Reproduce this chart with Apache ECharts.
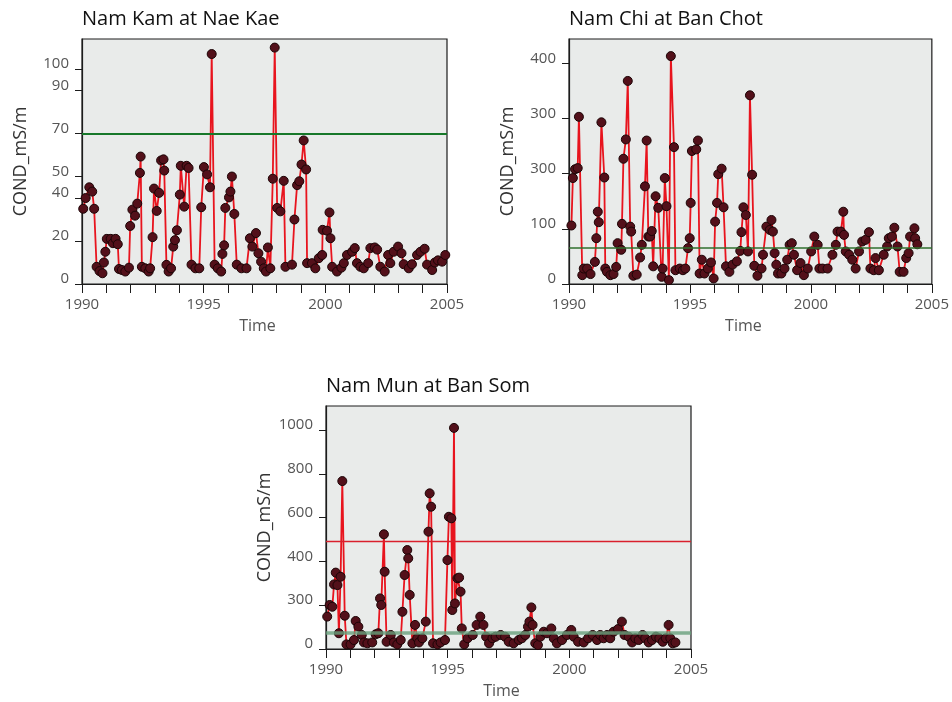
<!DOCTYPE html>
<html>
<head>
<meta charset="utf-8">
<script src="https://cdn.jsdelivr.net/npm/echarts@6/dist/echarts.min.js"></script>
<style>
  html, body { margin: 0; padding: 0; background: #ffffff; }
  #chart { width: 952px; height: 702px; }
</style>
</head>
<body>
<div id="chart"></div>
<script>
// Conductivity (mS/m) time series for three stations, sampled roughly monthly.

const namKamT = [1990.05,1990.15,1990.30,1990.42,1990.50,1990.60,1990.72,1990.84,1990.90,1990.96,
  1991.02,1991.18,1991.27,1991.38,1991.47,1991.52,1991.64,1991.78,1991.93,1991.98,
  1992.07,1992.18,1992.27,1992.38,1992.41,1992.46,1992.60,1992.74,1992.80,1992.90,1992.96,
  1993.07,1993.17,1993.25,1993.35,1993.38,1993.47,1993.56,1993.66,1993.75,1993.82,1993.90,
  1994.02,1994.06,1994.20,1994.30,1994.38,1994.50,1994.66,1994.82,1994.90,
  1995.01,1995.14,1995.26,1995.33,1995.45,1995.58,1995.72,1995.77,1995.84,1995.89,
  1996.04,1996.10,1996.16,1996.26,1996.36,1996.55,1996.76,1996.90,
  1997.00,1997.15,1997.25,1997.36,1997.47,1997.56,1997.64,1997.74,1997.84,1997.92,
  1998.02,1998.15,1998.29,1998.36,1998.63,1998.73,1998.84,1998.93,
  1999.02,1999.11,1999.21,1999.25,1999.45,1999.59,1999.73,1999.87,1999.89,
  2000.07,2000.17,2000.21,2000.28,2000.48,2000.66,2000.76,2000.89,
  2001.10,2001.21,2001.30,2001.44,2001.58,2001.76,2001.85,
  2002.03,2002.13,2002.26,2002.44,2002.58,2002.67,2002.81,2002.99,
  2003.13,2003.22,2003.43,2003.56,2003.77,2003.91,
  2004.08,2004.18,2004.39,2004.50,2004.63,2004.80,2004.93];
const namKamV = [35,40,45,43,35,8,6,5,10,15,
  21,21,19,21,18.5,7,6.5,5.8,7.6,27,
  34.6,31.8,37.4,51.7,59.3,8,7.3,5.8,7.3,21.8,44.4,
  34,42.4,57.5,58,52.8,8.9,5.8,7.3,17.4,20.4,25,
  41.6,55,36,55,54,9,7.3,7.3,35.7,
  54.4,51,45,107,9,7.3,5.8,14,18,35.4,
  40.3,43,50,32.6,9,7.3,7.3,21.3,
  17.4,23.7,14.3,10.4,7.3,5.8,17,7.3,49,110,
  35.4,33.8,48,8,9,30,46,47.8,
  55.6,66.8,53.3,9.7,9.7,7.3,12,13.5,25.2,
  24.8,33.3,21.3,8,5.8,7.6,9.7,13.5,
  15,16.7,9.7,8,7.3,9.7,16.7,
  17,16,8,5.8,13.5,9.7,15,17.4,
  14.3,9.2,7.3,9.2,13.5,15,
  16.4,9,6.5,10,11,10.4,13.5];

const namChiT = [1990.10,1990.16,1990.25,1990.36,1990.41,1990.55,1990.61,1990.75,1990.89,
  1991.07,1991.13,1991.19,1991.23,1991.34,1991.46,1991.50,1991.57,1991.71,1991.84,1991.95,
  1992.01,1992.16,1992.19,1992.25,1992.35,1992.43,1992.53,1992.57,1992.66,1992.80,1992.94,
  1993.01,1993.14,1993.21,1993.28,1993.35,1993.42,1993.48,1993.58,1993.69,1993.83,1993.87,1993.96,
  1994.03,1994.13,1994.21,1994.34,1994.40,1994.58,1994.71,1994.81,1994.92,1994.99,
  1995.03,1995.08,1995.26,1995.33,1995.40,1995.49,1995.60,1995.74,1995.87,1995.98,
  1996.04,1996.12,1996.17,1996.31,1996.39,1996.49,1996.63,1996.76,1996.94,
  1997.08,1997.13,1997.21,1997.31,1997.40,1997.48,1997.57,1997.66,1997.79,1997.96,
  1998.02,1998.16,1998.30,1998.37,1998.43,1998.50,1998.57,1998.64,1998.78,1998.91,
  1999.02,1999.12,1999.21,1999.30,1999.43,1999.57,1999.71,1999.87,
  2000.01,2000.14,2000.28,2000.35,2000.48,2000.69,2000.89,
  2001.03,2001.10,2001.24,2001.34,2001.37,2001.44,2001.58,2001.71,2001.85,2001.99,
  2002.12,2002.26,2002.40,2002.46,2002.60,2002.67,2002.81,
  2003.01,2003.15,2003.22,2003.35,2003.45,2003.58,2003.67,2003.83,2003.94,
  2004.04,2004.10,2004.28,2004.31,2004.40];
const namChiV = [106,192,208,210,303,16,28,28,18,
  40,83,131,112,293,193,28,22,16,18,31,
  74,62,109,227,262,368,104,95,15,17,48,
  71,177,260,86,86,96,32,159,138,13,28,192,
  141,7,413,248,25,28,25,28,65,83,
  147,241,244,260,19,44,19,28,39,10,
  113,147,199,209,139,32,22,35,41,
  60,94,139,125,59,342,198,33,15,28,
  53,104,98,116,95,56,35,19,19,28,
  44,71,74,53,25,38,16,28,
  59,86,71,28,28,28,53,
  71,95,95,131,89,59,53,44,28,59,
  77,80,94,28,25,47,25,
  53,68,83,86,102,68,22,22,47,
  56,86,101,83,72];

const namMunT = [1990.05,1990.15,1990.26,1990.33,1990.40,1990.47,1990.53,1990.60,1990.67,1990.77,1990.84,
  1991.01,1991.15,1991.22,1991.33,1991.47,1991.56,1991.70,1991.90,
  1992.04,1992.15,1992.22,1992.27,1992.38,1992.41,1992.49,1992.66,1992.79,1992.93,
  1993.07,1993.14,1993.23,1993.34,1993.38,1993.44,1993.55,1993.66,1993.75,1993.82,1993.96,
  1994.10,1994.21,1994.26,1994.32,1994.40,1994.58,1994.71,1994.89,1994.99,
  1995.05,1995.15,1995.19,1995.26,1995.30,1995.40,1995.47,1995.53,1995.58,1995.68,1995.82,
  1996.03,1996.19,1996.34,1996.47,1996.58,1996.70,1996.84,1996.97,
  1997.18,1997.36,1997.51,1997.71,1997.92,
  1998.05,1998.19,1998.30,1998.36,1998.44,1998.49,1998.60,1998.71,1998.81,1998.95,
  1999.08,1999.26,1999.36,1999.49,1999.70,1999.90,
  2000.08,2000.18,2000.36,2000.59,2000.77,2000.96,
  2001.14,2001.27,2001.41,2001.55,2001.68,2001.82,
  2002.00,2002.16,2002.27,2002.44,2002.58,2002.71,2002.85,
  2003.01,2003.12,2003.26,2003.40,2003.56,2003.70,2003.84,2003.97,
  2004.08,2004.15,2004.25,2004.36];
const namMunV = [148,201,193,295,349,292,72,330,767,152,21,
  21,41,128,102,64,30,26,30,
  67,72,231,201,524,353,33,64,30,21,
  41,170,338,452,414,247,26,110,49,30,49,
  125,536,711,650,26,21,30,41,406,
  604,597,178,1010,208,323,326,262,94,21,49,
  64,110,148,110,56,26,49,56,
  64,56,33,26,41,
  49,64,102,125,190,110,26,18,56,79,
  72,94,49,26,41,64,
  87,56,33,30,49,64,
  41,64,49,64,49,79,
  91,125,64,56,30,49,41,
  64,49,30,41,56,49,33,49,
  110,49,26,30];

const stationNames = ['Nam Kam at Nae Kae', 'Nam Chi at Ban Chot', 'Nam Mun at Ban Som'];
const yTickValues = [[0, 20, 40, 50, 70, 90, 100], [0, 100, 200, 300, 400], [0, 200, 400, 600, 800, 1000]];
const yTickLabels = [['0', '20', '40', '50', '70', '90', '100'], ['0', '100', '300', '300', '400'], ['0', '300', '400', '600', '800', '1000']];
const yMaxValues = [114, 444, 1110];
const guideLevels = [[70], [66], [490, 73]];
const yearRange = [1990, 2005];

// Layout and styling
const FONT = '"Open Sans", "Noto Sans", sans-serif';
const panels = [
  { left: 82, top: 39, width: 365, height: 245 },
  { left: 569, top: 39, width: 367, height: 245 },
  { left: 326, top: 406, width: 365, height: 243 }
];
const guideStyles = [
  [{ color: '#17782a', width: 2 }],
  [{ color: '#2f6f2c', width: 1.6 }],
  [{ color: '#d9202c', width: 1.4 }, { color: 'rgba(104,160,124,0.8)', width: 3.5 }]
];
const seriesT = [namKamT, namChiT, namMunT];
const seriesV = [namKamV, namChiV, namMunV];

const option = {
  animation: false,
  backgroundColor: '#ffffff',
  title: panels.map((p, i) => ({
    text: stationNames[i],
    left: p.left,
    top: p.top - 30,
    padding: 0,
    textStyle: { fontFamily: FONT, fontSize: 20, fontWeight: 'normal', color: '#111' }
  })),
  grid: panels.map(p => ({
    left: p.left, top: p.top, width: p.width, height: p.height,
    show: true, backgroundColor: '#e9ebea', borderColor: '#1c1c1c', borderWidth: 1.2,
    containLabel: false
  })),
  xAxis: panels.map((p, i) => ({
    type: 'value', gridIndex: i, min: yearRange[0], max: yearRange[1], interval: 1,
    name: 'Time', nameLocation: 'middle', nameGap: 34,
    nameTextStyle: { fontFamily: FONT, fontSize: 16, color: '#555', padding: [0, 14, 0, 0] },
    axisLine: { show: true, onZero: false, lineStyle: { color: '#1c1c1c', width: 1.2 } },
    axisTick: { show: true, length: 9, lineStyle: { color: '#1c1c1c', width: 1 } },
    axisLabel: {
      fontFamily: FONT, fontSize: 15, color: '#555', margin: 13,
      formatter: v => (Math.round(v) % 5 === 0 ? String(Math.round(v)) : '')
    },
    splitLine: { show: false }
  })),
  yAxis: panels.map((p, i) => ({
    type: 'value', gridIndex: i, min: 0, max: yMaxValues[i],
    name: 'COND_mS/m', nameLocation: 'middle', nameGap: 52,
    nameTextStyle: { fontFamily: FONT, fontSize: 18, color: '#333' },
    axisLine: { show: true, onZero: false, lineStyle: { color: '#1c1c1c', width: 1.2 } },
    axisTick: { show: true, length: 7, customValues: yTickValues[i], lineStyle: { color: '#1c1c1c', width: 1 } },
    axisLabel: {
      fontFamily: FONT, fontSize: 15, color: '#555', margin: 13,
      customValues: yTickValues[i], verticalAlign: 'bottom', lineHeight: 10,
      formatter: v => {
        const k = yTickValues[i].indexOf(v);
        return k >= 0 ? yTickLabels[i][k] : '';
      }
    },
    splitLine: { show: false }
  })),
  series: panels.map((p, i) => ({
    type: 'line', xAxisIndex: i, yAxisIndex: i,
    data: seriesT[i].map((t, k) => [t, seriesV[i][k]]),
    symbol: 'circle', symbolSize: 9, showAllSymbol: true,
    lineStyle: { color: '#e8141e', width: 1.8 },
    itemStyle: { color: '#53101a', borderColor: '#1c0406', borderWidth: 1 },
    markLine: {
      silent: true, symbol: ['none', 'none'], label: { show: false },
      data: guideLevels[i].map((lv, k) => ({ yAxis: lv, lineStyle: { type: 'solid', color: guideStyles[i][k].color, width: guideStyles[i][k].width } }))
    }
  }))
};

const chart = echarts.init(document.getElementById('chart'), null, { renderer: 'canvas' });
chart.setOption(option);
</script>
</body>
</html>
